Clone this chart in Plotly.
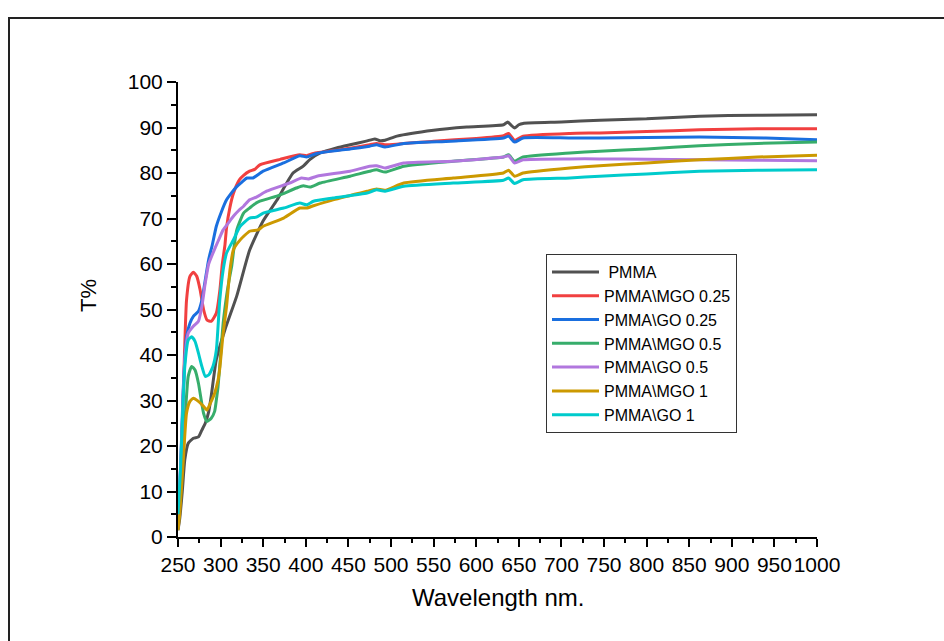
import plotly.graph_objects as go

# ---- data (wavelength nm, transmittance %) ----
PMMA_WL = [250, 252, 255, 258, 262, 268, 274, 278, 282, 286, 289, 295, 305, 319, 334, 350, 366, 385, 397, 405, 417, 436, 452, 471, 481, 487, 493, 507, 550, 589, 632, 637, 641, 645, 650, 655, 700, 745, 800, 862, 930, 1000]
PMMA_T = [1.5, 4, 10, 17, 20.6, 21.7, 22, 23.5, 25, 27.5, 31, 39, 45.5, 53, 63, 69.5, 74, 80, 81.5, 83, 84.4, 85.5, 86.2, 87, 87.5, 87.1, 87.2, 88.1, 89.4, 90.1, 90.6, 91.2, 90.5, 89.9, 90.6, 90.9, 91.2, 91.6, 91.9, 92.5, 92.7, 92.8]

MGO025_WL = [250, 253, 256, 260, 264, 268, 272, 276, 280, 284, 289, 295, 299, 302, 305, 307, 311, 315, 322, 327, 334, 340, 346, 370, 393, 401, 409, 440, 475, 483, 493, 550, 600, 632, 638, 645, 655, 710, 745, 800, 862, 930, 1000]
MGO025_T = [2, 12, 30, 52, 57.3, 58.2, 57.3, 54.3, 50, 47.7, 47.4, 49.2, 54, 60, 64, 68, 72.5, 75.5, 78.5, 79.5, 80.4, 80.8, 81.8, 83, 84, 83.8, 84.3, 85.1, 86.2, 86.5, 86.2, 87, 87.6, 88.2, 88.7, 87.2, 88.1, 88.7, 88.8, 89.1, 89.5, 89.7, 89.7]

GO025_WL = [250, 253, 256, 260, 264, 268, 274, 278, 282, 286, 290, 295, 301, 307, 313, 319, 325, 331, 338, 350, 374, 393, 401, 413, 452, 475, 483, 493, 515, 570, 632, 638, 645, 655, 710, 745, 800, 862, 940, 1000]
GO025_T = [3, 15, 32, 44, 47, 48.5, 49.6, 52, 56.5, 61, 64, 68.3, 71.5, 74.1, 75.7, 77, 78, 78.9, 78.9, 80.4, 82.2, 83.8, 83.5, 84.3, 85.3, 85.9, 86.2, 85.7, 86.5, 87, 87.7, 88.1, 86.8, 87.7, 87.7, 87.7, 87.8, 87.9, 87.7, 87.3]

MGO05_WL = [250, 254, 258, 262, 266, 270, 274, 280, 284, 289, 293, 295, 297, 300, 303, 307, 310, 313, 316, 319, 327, 334, 340, 346, 366, 389, 397, 405, 417, 452, 475, 483, 493, 515, 573, 632, 638, 645, 655, 710, 745, 800, 862, 930, 1000]
MGO05_T = [2, 12, 25, 35.3, 37.5, 36.7, 33.8, 27.2, 25.4, 26.1, 27.6, 30.1, 33, 40, 47, 53, 56.5, 59.5, 64, 67.5, 71.2, 72.3, 73.2, 73.8, 74.9, 76.7, 77.2, 76.9, 77.8, 79.3, 80.4, 80.7, 80.2, 81.5, 82.6, 83.5, 84, 82.6, 83.5, 84.4, 84.8, 85.3, 86, 86.5, 86.8]

GO05_WL = [250, 254, 258, 262, 268, 274, 278, 282, 286, 291, 297, 303, 309, 315, 321, 327, 334, 342, 354, 381, 395, 403, 413, 452, 475, 483, 493, 515, 573, 632, 638, 645, 655, 710, 745, 800, 862, 930, 1000]
GO05_T = [3, 20, 39, 44.8, 46.3, 47.4, 50.7, 55.8, 60, 62.4, 65, 67.5, 69, 70.5, 71.7, 72.7, 74.1, 74.7, 76, 77.8, 78.9, 78.7, 79.3, 80.4, 81.5, 81.6, 81.1, 82.2, 82.6, 83.5, 83.8, 82.2, 82.9, 83.1, 83.1, 83, 82.9, 82.8, 82.7]

MGO1_WL = [250, 252, 256, 260, 264, 268, 274, 280, 284, 288, 293, 297, 299, 303, 307, 311, 315, 323, 334, 344, 350, 374, 393, 401, 409, 432, 472, 483, 493, 515, 573, 632, 638, 645, 655, 710, 745, 800, 862, 930, 1000]
MGO1_T = [1.5, 5, 16.2, 27.2, 29.8, 30.5, 29.8, 28.7, 27.9, 29.4, 31.6, 34.5, 37, 44.8, 50.7, 58.7, 63.1, 65.3, 67.2, 67.5, 68.3, 70.1, 72.3, 72.3, 72.8, 74.1, 76, 76.5, 76.2, 77.8, 78.9, 80, 80.6, 79.3, 80, 81.1, 81.6, 82.2, 82.9, 83.5, 83.9]

GO1_WL = [250, 253, 255, 258, 262, 266, 270, 274, 278, 282, 286, 291, 295, 299, 303, 307, 315, 323, 334, 342, 350, 374, 393, 401, 409, 432, 472, 483, 493, 515, 573, 632, 638, 645, 655, 710, 745, 800, 862, 930, 1000]
GO1_T = [5, 15, 25, 37.5, 43.3, 44, 43, 40.4, 37.5, 35.3, 35.6, 37.5, 41.1, 52, 58.7, 62.4, 65.3, 68.3, 70.1, 70.3, 71.2, 72.3, 73.4, 73, 73.8, 74.5, 75.6, 76.3, 76, 77.1, 77.8, 78.4, 78.9, 77.7, 78.5, 78.9, 79.3, 79.8, 80.4, 80.6, 80.7]

SERIES_NAMES = ["\u00a0PMMA", "PMMA\\MGO 0.25", "PMMA\\GO 0.25", "PMMA\\MGO 0.5",
                "PMMA\\GO 0.5", "PMMA\\MGO 1", "PMMA\\GO 1"]
SERIES_WL = [PMMA_WL, MGO025_WL, GO025_WL, MGO05_WL, GO05_WL, MGO1_WL, GO1_WL]
SERIES_T = [PMMA_T, MGO025_T, GO025_T, MGO05_T, GO05_T, MGO1_T, GO1_T]
COLORS = ["#515151", "#F14040", "#1A6FDF", "#37AD6B", "#B177DE", "#CC9900", "#00CBCC"]

X_TICKS = list(range(250, 1001, 50))
Y_TICKS = list(range(0, 101, 10))

FONT = "Arial, Liberation Sans, sans-serif"

fig = go.Figure()
for name, wl, t, c in zip(SERIES_NAMES, SERIES_WL, SERIES_T, COLORS):
    fig.add_trace(go.Scatter(x=wl, y=t, mode="lines", name=name,
                             line=dict(color=c, width=3, shape="spline", smoothing=0.5)))

# pixel -> paper helpers for layout elements
L, R, T, B = 178, 127, 82, 104
W, H = 944, 641
PW, PH = W - L - R, H - T - B
def px(xp):
    return (xp - L) / PW
def py(yp):
    return (H - B - yp) / PH

fig.update_layout(
    width=W, height=H,
    margin=dict(l=L, r=R, t=T, b=B),
    paper_bgcolor="white", plot_bgcolor="white",
    font=dict(family=FONT, color="black"),
    showlegend=True,
    legend=dict(x=px(546), y=py(254), xanchor="left", yanchor="top",
                bordercolor="#333333", borderwidth=1, bgcolor="white",
                font=dict(size=16, family=FONT, color="black"),
                tracegroupgap=0, itemwidth=47,
                entrywidth=170, entrywidthmode="pixels"),
    xaxis=dict(range=[250, 1000], tickvals=X_TICKS, ticktext=[str(v) for v in X_TICKS],
               tickangle=0,
               showgrid=False, zeroline=False, showline=True, linecolor="black", linewidth=2,
               ticks="outside", ticklen=8, tickwidth=2, tickcolor="black",
               tickfont=dict(size=21, family=FONT, color="black"),
               minor=dict(ticks="outside", ticklen=4, tickwidth=2, tickcolor="black", dtick=25, showgrid=False)),
    yaxis=dict(range=[0, 100], tickvals=Y_TICKS, ticktext=[str(v) for v in Y_TICKS],
               showgrid=False, zeroline=False, showline=True, linecolor="black", linewidth=2,
               ticks="outside", ticklen=9, tickwidth=2, tickcolor="black",
               tickfont=dict(size=21, family=FONT, color="black"),
               minor=dict(ticks="outside", ticklen=5, tickwidth=2, tickcolor="black", dtick=5, showgrid=False)),
    annotations=[
        dict(text="Wavelength nm.", xref="paper", yref="paper", x=px(498), y=py(597),
             xanchor="center", yanchor="middle", showarrow=False,
             font=dict(size=24, family=FONT, color="black")),
        dict(text="T%", xref="paper", yref="paper", x=px(88), y=py(296), textangle=-90,
             xanchor="center", yanchor="middle", showarrow=False,
             font=dict(size=22, family=FONT, color="black")),
    ],
    shapes=[
        dict(type="rect", xref="paper", yref="paper", x0=px(9), x1=px(960), y0=py(660), y1=py(18),
             line=dict(color="#222222", width=2), fillcolor="rgba(0,0,0,0)", layer="below"),
    ],
)

fig.write_html("out.html")
